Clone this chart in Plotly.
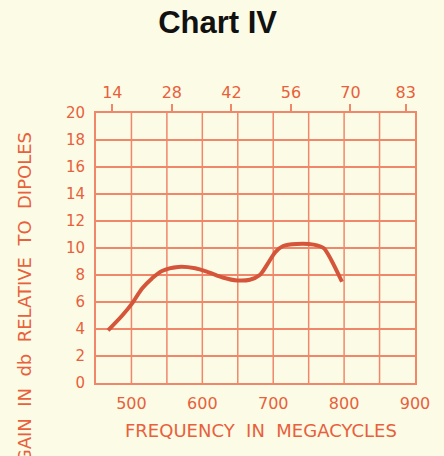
import plotly.graph_objects as go

# Measured antenna gain vs. frequency
freq_mhz = [467, 487, 501, 515, 529, 543, 566, 590, 609, 630, 649, 667, 681, 693, 703, 714, 733, 757, 771, 782, 797]
gain_db = [3.9, 5.0, 5.9, 7.0, 7.75, 8.3, 8.6, 8.5, 8.2, 7.8, 7.6, 7.65, 8.0, 8.9, 9.7, 10.15, 10.3, 10.25, 10.0, 9.1, 7.5]

# Bottom axis labels (MHz)
freq_ticks = [500, 600, 700, 800, 900]
# Left axis labels (dB)
gain_ticks = [0, 2, 4, 6, 8, 10, 12, 14, 16, 18, 20]
# UHF channel numbers on the top axis, placed at channel centre frequencies
channels = [14, 28, 42, 56, 70, 83]
channel_freqs = [473 + 6 * (c - 14) for c in channels]

BG = "#fcfce6"
GRID = "#f0876a"
INK = "#e8603c"
CURVE = "#d4553a"
FONT = "DejaVu Sans"

fig = go.Figure()
fig.add_trace(go.Scatter(
    x=freq_mhz, y=gain_db, mode="lines",
    line=dict(color=CURVE, width=4, shape="spline", smoothing=0.8),
    hoverinfo="skip", showlegend=False,
))
# Invisible trace to activate the top axis
fig.add_trace(go.Scatter(
    x=[450, 900], y=[0, 0], xaxis="x2", mode="lines",
    line=dict(width=0), hoverinfo="skip", showlegend=False,
))

fig.update_layout(
    width=444, height=456,
    margin=dict(l=96, r=29, t=113, b=73),
    paper_bgcolor=BG, plot_bgcolor=BG,
    font=dict(family=FONT, color=INK),
    title=dict(
        text="<b>Chart IV</b>", x=0.49, xanchor="center", y=0.952, yanchor="middle",
        font=dict(family="Liberation Sans", size=31, color="#111111"),
    ),
    xaxis=dict(
        range=[450, 900], tickmode="array", tickvals=freq_ticks,
        ticktext=[str(v) for v in freq_ticks],
        showgrid=False, zeroline=False,
        showline=True, linecolor=GRID, linewidth=2, mirror=True,
        ticks="", ticklabelstandoff=5,
        tickfont=dict(family=FONT, size=16, color=INK),
    ),
    xaxis2=dict(
        range=[450, 900], overlaying="x", side="top",
        tickmode="array", tickvals=channel_freqs,
        ticktext=[str(c) for c in channels],
        ticks="outside", ticklen=8, tickwidth=2, tickcolor=GRID,
        showgrid=False, zeroline=False, showline=False,
        ticklabelstandoff=0,
        tickfont=dict(family=FONT, size=16, color=INK),
    ),
    yaxis=dict(
        range=[0, 20], tickmode="array", tickvals=gain_ticks,
        ticktext=[str(v) for v in gain_ticks],
        showgrid=True, gridcolor=GRID, gridwidth=1.5, zeroline=False,
        showline=True, linecolor=GRID, linewidth=2, mirror=True,
        ticks="", ticklabelstandoff=6,
        tickfont=dict(family=FONT, size=15, color=INK),
    ),
)

# Vertical grid every 50 MHz
for f in range(500, 900, 50):
    fig.add_shape(type="line", xref="x", yref="paper", x0=f, x1=f, y0=0, y1=1,
                  line=dict(color=GRID, width=1.5), layer="below")

fig.add_annotation(
    text="FREQUENCY  IN  MEGACYCLES", xref="paper", yref="paper",
    x=0.517, y=-0.175, xanchor="center", yanchor="middle", showarrow=False,
    font=dict(family=FONT, size=18, color=INK),
)
fig.add_annotation(
    text="GAIN  IN  db  RELATIVE  TO  DIPOLES", xref="paper", yref="paper",
    x=-0.223, y=0.317, xanchor="center", yanchor="middle", textangle=-90,
    showarrow=False, font=dict(family=FONT, size=18, color=INK),
)

fig.write_html("out.html")
